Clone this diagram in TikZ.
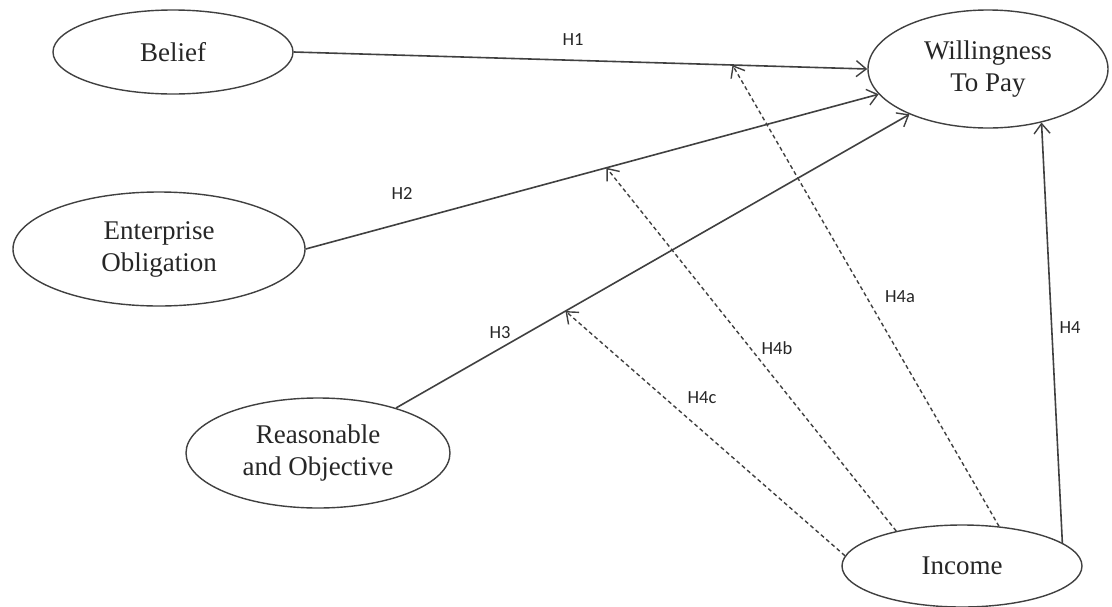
\documentclass[tikz,border=0pt]{standalone}
\usepackage{fontspec}
\setmainfont{Liberation Serif}
\newfontfamily\labelfont{Carlito}
\usetikzlibrary{shapes.geometric,arrows.meta}

\begin{document}
\begin{tikzpicture}[x=1pt,y=-1pt,
  construct/.style={ellipse,draw=black!75,line width=1.4pt,inner sep=0pt,align=center,
    font=\fontsize{27}{32}\selectfont,text=black!85},
  path/.style={draw=black!75,line width=1.6pt,-{Straight Barb[length=10pt,width=16pt,line width=1.4pt]}},
  moderate/.style={path,line width=1.4pt,dash pattern=on 4pt off 3pt},
  hyp/.style={font=\labelfont\fontsize{18.5}{18.5}\selectfont,text=black!85,inner sep=1pt}]
\useasboundingbox (0,0) rectangle (1112,606);
\node[construct,minimum width=240pt,minimum height=84pt] (belief) at (173,52) {Belief};
\node[construct,minimum width=240pt,minimum height=118pt] (wtp) at (988,69) {Willingness\\To Pay};
\node[construct,minimum width=292pt,minimum height=114pt] (oblig) at (159,249) {Enterprise\\Obligation};
\node[construct,minimum width=264pt,minimum height=110pt] (reason) at (318,453) {Reasonable\\and Objective};
\node[construct,minimum width=240pt,minimum height=82pt] (income) at (962,566) {Income};
% direct paths
\draw[path] (belief.east) -- coordinate[pos=0.765] (onH1) (wtp.west);
\draw[path] (oblig.east) -- coordinate[pos=0.525] (onH2) (wtp.193);
\draw[path] (reason.30) -- coordinate[pos=0.33] (onH3) (wtp.210);
\draw[path] (income.13) -- (wtp.315);
% moderating paths
\draw[moderate] (income.47) -- (onH1);
\draw[moderate] (income.152) -- (onH2);
\draw[moderate] (income.175) -- (onH3);
% labels
\node[hyp] (h1) at (573,40) {H1};
\node[hyp] (h2) at (402,193) {H2};
\node[hyp] (h3) at (500,333) {H3};
\node[hyp] (h4) at (1070,328) {H4};
\node[hyp] (h4a) at (900,297) {H4a};
\node[hyp] (h4b) at (777,348) {H4b};
\node[hyp] (h4c) at (702,398) {H4c};
\end{tikzpicture}
\end{document}
